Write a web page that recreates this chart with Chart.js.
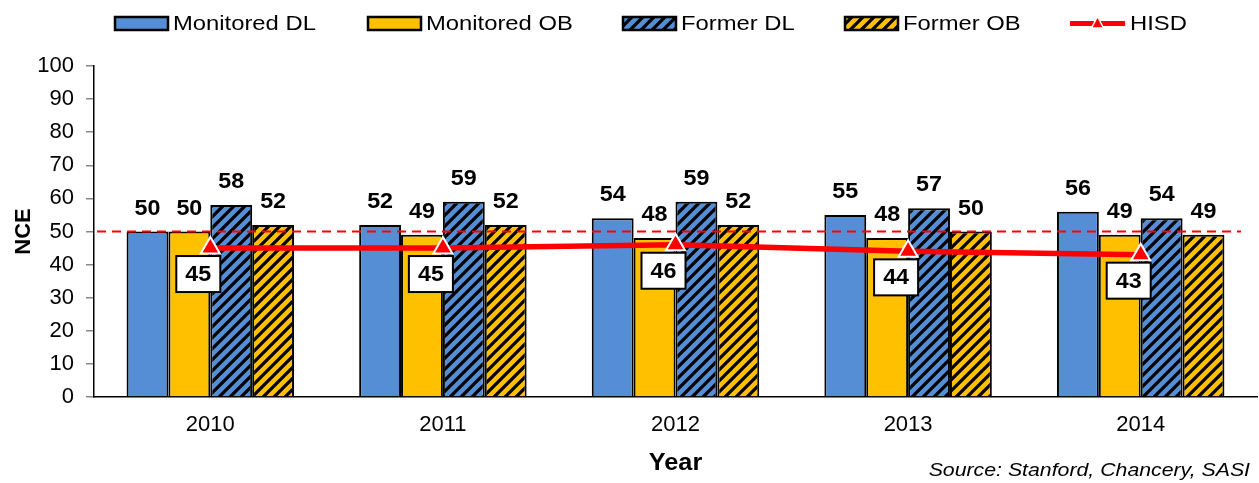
<!DOCTYPE html>
<html>
<head>
<meta charset="utf-8">
<script src="https://cdn.jsdelivr.net/npm/chart.js@4/dist/chart.umd.min.js"></script>
<style>
html,body{margin:0;padding:0;background:#fff;overflow:hidden;}
#wrap{width:1259px;height:483px;position:relative;overflow:hidden;}
#c{display:block;}
</style>
</head>
<body>
<div id="wrap"><canvas id="c"></canvas></div>
<script>
const categories = ['2010', '2011', '2012', '2013', '2014'];
const monitoredDL = [50, 52, 54, 55, 56];
const monitoredOB = [50, 49, 48, 48, 49];
const formerDL = [58, 59, 59, 57, 54];
const formerOB = [52, 52, 52, 50, 49];
const hisd = [45, 45, 46, 44, 43];
const referenceValue = 50;
const yMin = 0, yMax = 100, yStep = 10;
const seriesLabels = ['Monitored DL', 'Monitored OB', 'Former DL', 'Former OB', 'HISD'];
const yTitle = 'NCE';
const xTitle = 'Year';
const sourceText = 'Source: Stanford, Chancery, SASI';

const BLUE = '#558ED5', GOLD = '#FFC000', RED = '#FF0000';
const FONT = 'Arial, "Liberation Sans", sans-serif';

function hatch(bg) {
  const s = 11;
  const c = document.createElement('canvas');
  c.width = s; c.height = s;
  const g = c.getContext('2d');
  g.fillStyle = bg; g.fillRect(0, 0, s, s);
  g.strokeStyle = '#000'; g.lineWidth = 3.2; g.lineCap = 'square';
  g.beginPath();
  g.moveTo(-2, s + 2); g.lineTo(s + 2, -2);
  g.moveTo(-2, 2); g.lineTo(2, -2);
  g.moveTo(s - 2, s + 2); g.lineTo(s + 2, s - 2);
  g.stroke();
  return g.createPattern(c, 'repeat');
}
const blueHatch = hatch(BLUE);
const goldHatch = hatch(GOLD);

function sText(ctx, text, x, y, sx, align) {
  const w = ctx.measureText(text).width * sx;
  let left = x;
  if (align === 'center') left = x - w / 2;
  else if (align === 'right') left = x - w;
  ctx.save();
  ctx.translate(left, y);
  ctx.scale(sx, 1);
  ctx.textAlign = 'left';
  ctx.fillText(text, 0, 0);
  ctx.restore();
}

const legendX = [115, 368, 623, 845, 1070];

const customPlugin = {
  id: 'custom',
  beforeDatasetDraw(chart, args) {
    if (args.index !== 4) return;
    const ctx = chart.ctx, a = chart.chartArea;
    const y = chart.scales.y.getPixelForValue(referenceValue);
    ctx.save();
    ctx.strokeStyle = RED; ctx.lineWidth = 2; ctx.setLineDash([9, 6]);
    ctx.beginPath(); ctx.moveTo(a.left + 3, y); ctx.lineTo(a.right - 16, y); ctx.stroke();
    ctx.restore();
  },
  afterDatasetsDraw(chart) {
    const ctx = chart.ctx;
    ctx.save();
    ctx.fillStyle = '#000';
    ctx.font = 'bold 22px ' + FONT;
    ctx.textBaseline = 'alphabetic';
    for (let d = 0; d < 4; d++) {
      const meta = chart.getDatasetMeta(d);
      meta.data.forEach((bar, i) => {
        sText(ctx, String(chart.data.datasets[d].data[i]), bar.x, bar.y - 17, 1.06, 'center');
      });
    }
    const lm = chart.getDatasetMeta(4);
    lm.data.forEach((pt, i) => {
      const cx = pt.x - 12, cy = pt.y + 26;
      const w = 44, h = 36;
      ctx.fillStyle = '#fff';
      ctx.fillRect(cx - w / 2, cy - h / 2, w, h);
      ctx.strokeStyle = '#000'; ctx.lineWidth = 2;
      ctx.strokeRect(cx - w / 2, cy - h / 2, w, h);
      ctx.fillStyle = '#000';
      ctx.textBaseline = 'middle';
      sText(ctx, String(hisd[i]), cx, cy + 1, 1.06, 'center');
    });
    ctx.restore();
  },
  afterDraw(chart) {
    const ctx = chart.ctx, a = chart.chartArea;
    ctx.save();
    const fills = [BLUE, GOLD, blueHatch, goldHatch];
    ctx.font = '20px ' + FONT;
    ctx.textBaseline = 'middle';
    for (let i = 0; i < 5; i++) {
      const x = legendX[i], yc = 23.5;
      if (i < 4) {
        ctx.fillStyle = fills[i];
        ctx.fillRect(x, yc - 6.5, 53, 13);
        ctx.strokeStyle = '#000'; ctx.lineWidth = 2.5;
        ctx.strokeRect(x, yc - 6.5, 53, 13);
        ctx.fillStyle = '#000';
        sText(ctx, seriesLabels[i], x + 58, yc + 1, 1.19, 'left');
      } else {
        ctx.strokeStyle = RED; ctx.lineWidth = 5;
        ctx.beginPath(); ctx.moveTo(x, yc); ctx.lineTo(x + 55, yc); ctx.stroke();
        ctx.fillStyle = RED; ctx.strokeStyle = '#fff'; ctx.lineWidth = 1.5;
        ctx.beginPath();
        ctx.moveTo(x + 27.5, yc - 7); ctx.lineTo(x + 33.5, yc + 4.5); ctx.lineTo(x + 21.5, yc + 4.5); ctx.closePath();
        ctx.fill(); ctx.stroke();
        ctx.fillStyle = '#000';
        sText(ctx, seriesLabels[i], x + 60, yc + 1, 1.19, 'left');
      }
    }
    ctx.fillStyle = '#000';
    ctx.font = 'bold 22px ' + FONT;
    ctx.save();
    ctx.translate(24, (a.top + a.bottom) / 2);
    ctx.rotate(-Math.PI / 2);
    ctx.textAlign = 'center'; ctx.textBaseline = 'middle';
    ctx.fillText(yTitle, 0, 0);
    ctx.restore();
    ctx.font = 'bold 23px ' + FONT;
    ctx.textBaseline = 'middle';
    sText(ctx, xTitle, (a.left + a.right) / 2, 464, 1.1, 'center');
    ctx.font = 'italic 19px ' + FONT;
    ctx.textBaseline = 'alphabetic';
    sText(ctx, sourceText, 1250, 476, 1.12, 'right');
    ctx.restore();
  }
};

new Chart(document.getElementById('c'), {
  type: 'bar',
  data: {
    labels: categories,
    datasets: [
      { label: seriesLabels[0], data: monitoredDL, backgroundColor: BLUE, borderColor: '#000', borderWidth: 2, order: 1 },
      { label: seriesLabels[1], data: monitoredOB, backgroundColor: GOLD, borderColor: '#000', borderWidth: 2, order: 1 },
      { label: seriesLabels[2], data: formerDL, backgroundColor: blueHatch, borderColor: '#000', borderWidth: 2, order: 1 },
      { label: seriesLabels[3], data: formerOB, backgroundColor: goldHatch, borderColor: '#000', borderWidth: 2, order: 1 },
      { type: 'line', label: seriesLabels[4], data: hisd, borderColor: RED, backgroundColor: RED, borderWidth: 5.5,
        pointStyle: 'triangle', pointRadius: 11, pointBackgroundColor: RED, pointBorderColor: '#fff', pointBorderWidth: 2,
        fill: false, tension: 0, order: 0 }
    ]
  },
  options: {
    responsive: true,
    maintainAspectRatio: false,
    animation: false,
    devicePixelRatio: 1,
    layout: { autoPadding: false, padding: { top: 66, right: 2, left: 0, bottom: 0 } },
    plugins: { legend: { display: false }, tooltip: { enabled: false } },
    datasets: { bar: { categoryPercentage: 0.72, barPercentage: 1.0 } },
    scales: {
      x: {
        grid: { display: false, drawTicks: false },
        border: { display: true, color: '#000', width: 1.5 },
        ticks: { color: '#000', font: { family: FONT, size: 22 }, padding: 15, maxRotation: 0 },
        afterFit(s) { s.height = 86; }
      },
      y: {
        min: yMin, max: yMax,
        grid: { display: true, drawOnChartArea: false, drawTicks: true, tickLength: 8, color: '#888', lineWidth: 1.5 },
        border: { display: true, color: '#000', width: 1.5 },
        ticks: { stepSize: yStep, color: '#000', font: { family: FONT, size: 22 }, padding: 12 },
        afterFit(s) { s.width = 94; }
      }
    }
  },
  plugins: [customPlugin]
});
</script>
</body>
</html>
